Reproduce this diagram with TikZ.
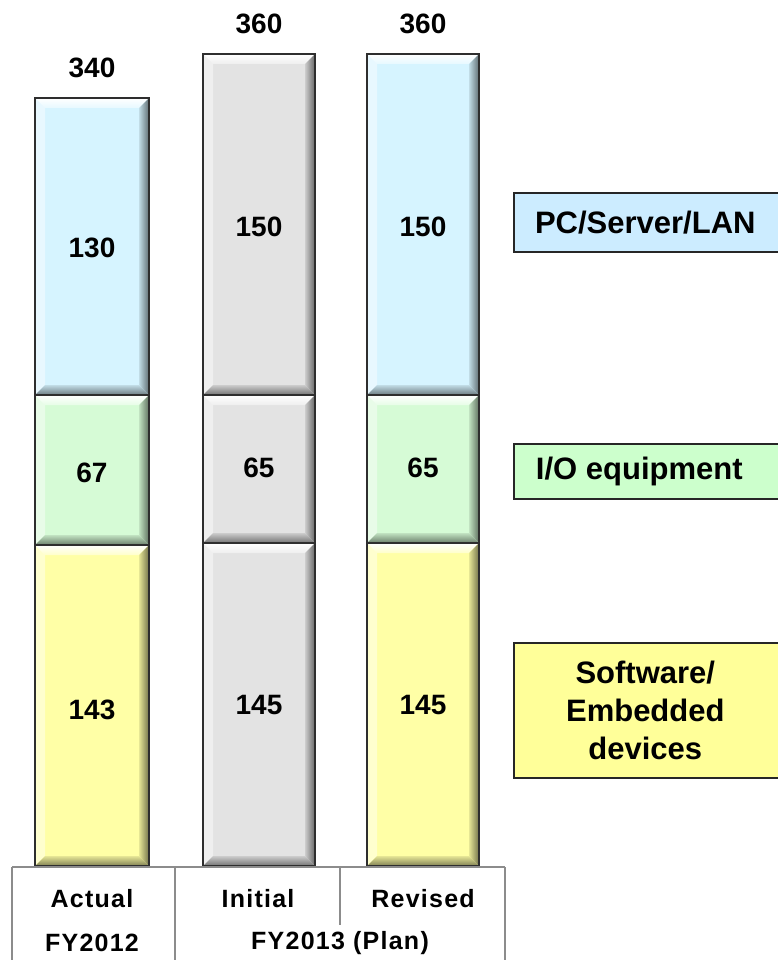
\documentclass[tikz,border=0pt]{standalone}
\usepackage{fontspec}
\setmainfont{Liberation Sans}
\definecolor{cblue}{HTML}{D6F4FF}
\definecolor{cgreen}{HTML}{D6FBD6}
\definecolor{cyellow}{HTML}{FFFFA6}
\definecolor{cgray}{HTML}{E3E3E3}
\definecolor{lblue}{HTML}{CCECFF}
\definecolor{lgreen}{HTML}{CCFFCC}
\definecolor{lyellow}{HTML}{FFFF99}
\definecolor{axisgray}{HTML}{8C8C8C}
\newcommand\bevseg[5]{%
  \fill[#5] (#1,#2) rectangle (#3,#4);
  \shade[top color=white, bottom color=white!40!#5] (#1,#2) -- (#3,#2) -- (#3-10,#2+10) -- (#1+10,#2+10) -- cycle;
  \fill[white, opacity=0.45] (#1,#2) -- (#1+10,#2+10) -- (#1+10,#4-10) -- (#1,#4) -- cycle;
  \shade[left color=black!10!#5, right color=black!55!#5] (#3-10,#2+10) -- (#3,#2) -- (#3,#4) -- (#3-10,#4-10) -- cycle;
  \shade[top color=black!10!#5, bottom color=black!50!#5] (#1+10,#4-10) -- (#3-10,#4-10) -- (#3,#4) -- (#1,#4) -- cycle;
  \draw[line width=2.4pt, draw=black!82] (#1,#2) rectangle (#3,#4);
}
\tikzset{
  num/.style={font=\fontsize{28}{30}\selectfont\bfseries, inner sep=0pt},
  axl/.style={font=\fontsize{25}{28}\selectfont\bfseries\addfontfeature{LetterSpace=5}, inner sep=0pt},
  leg/.style={draw=black!85, line width=1.6pt, font=\fontsize{31}{38}\selectfont\bfseries, align=center, inner sep=0pt},
  axisline/.style={draw=axisgray, line width=1.4pt}
}
\begin{document}
\begin{tikzpicture}[x=1pt, y=-1pt]
\useasboundingbox (0,0) rectangle (778,960);
% Bar 1 (Actual FY2012)
\bevseg{35}{98}{149}{395}{cblue}
\bevseg{35}{395}{149}{545}{cgreen}
\bevseg{35}{545}{149}{866}{cyellow}
% Bar 2 (Initial)
\bevseg{203}{54}{315}{395}{cgray}
\bevseg{203}{395}{315}{543}{cgray}
\bevseg{203}{543}{315}{866}{cgray}
% Bar 3 (Revised)
\bevseg{367}{54}{479}{395}{cblue}
\bevseg{367}{395}{479}{543}{cgreen}
\bevseg{367}{543}{479}{866}{cyellow}
% values
\node[num] (t1) at (92,68) {340};
\node[num] (t2) at (259,24) {360};
\node[num] (t3) at (423,24) {360};
\node[num] (a1) at (92,248) {130};
\node[num] (a2) at (92,473) {67};
\node[num] (a3) at (92,710) {143};
\node[num] (b1) at (259,227) {150};
\node[num] (b2) at (259,468) {65};
\node[num] (b3) at (259,705) {145};
\node[num] (c1) at (423,227) {150};
\node[num] (c2) at (423,468) {65};
\node[num] (c3) at (423,705) {145};
% axis
\coordinate (h0) at (12,867);
\coordinate (h1) at (175,867);
\coordinate (h2) at (340,867);
\coordinate (h3) at (505,867);
\coordinate (v0) at (12,960);
\coordinate (v1) at (175,960);
\coordinate (v2) at (340,925);
\coordinate (v3) at (505,960);
\draw[axisline] (h0) -- (h3);
\draw[axisline] (h0) -- (v0);
\draw[axisline] (h1) -- (v1);
\draw[axisline] (h2) -- (v2);
\draw[axisline] (h3) -- (v3);
\node[axl] (x1) at (92,899) {Actual};
\node[axl] (x2) at (258,899) {Initial};
\node[axl] (x3) at (423,899) {Revised};
\node[axl] (y1) at (92,943) {FY2012};
\node[axl] (y2) at (340,943) {FY2013 (Plan)};
% legend
\node[leg, fill=lblue, minimum width=267pt, minimum height=59pt, anchor=north west] (l1) at (513,192) {\hspace*{-4pt}PC/Server/LAN};
\node[leg, fill=lgreen, minimum width=267pt, minimum height=55pt, anchor=north west] (l2) at (513,443) {\hspace*{-16pt}I/O equipment};
\node[leg, fill=lyellow, minimum width=267pt, minimum height=135pt, anchor=north west] (l3) at (513,642) {\hspace*{-4pt}Software/\\\hspace*{-4pt}Embedded\\\hspace*{-4pt}devices};
\end{tikzpicture}
\end{document}
